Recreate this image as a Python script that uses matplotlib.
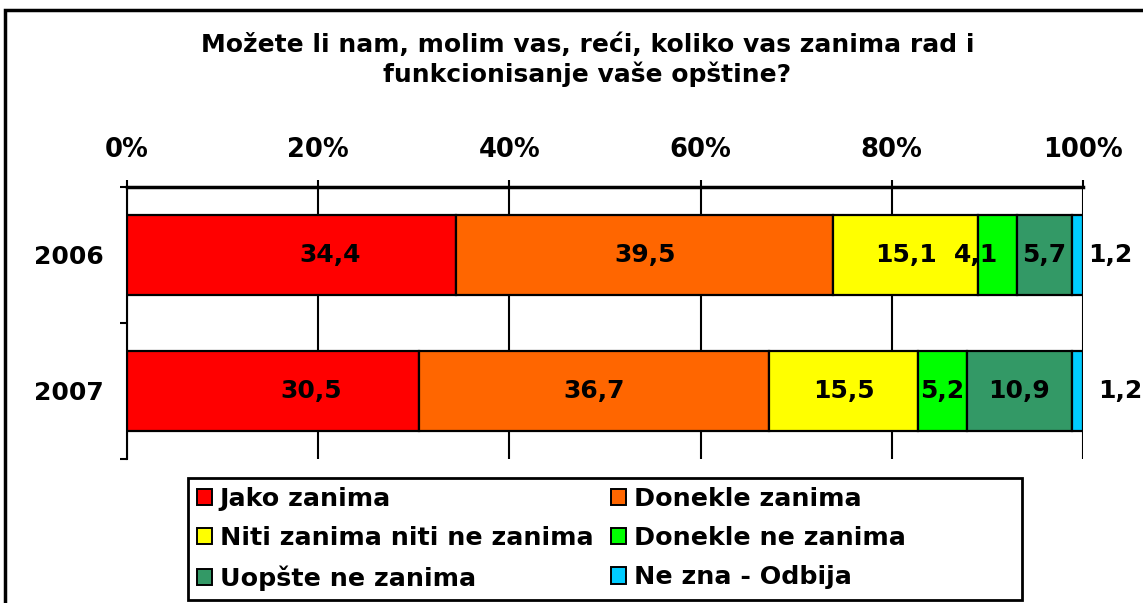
import matplotlib
matplotlib.use("Agg")
import matplotlib.pyplot as plt
from matplotlib.patches import Rectangle, Patch
from matplotlib.ticker import FixedLocator

years = ["2006", "2007"]
categories = ["Jako zanima", "Donekle zanima", "Niti zanima niti ne zanima",
              "Donekle ne zanima", "Uopšte ne zanima", "Ne zna - Odbija"]
values_2006 = [34.4, 39.5, 15.1, 4.1, 5.7, 1.2]
values_2007 = [30.5, 36.7, 15.5, 5.2, 10.9, 1.2]
colors = ["#FF0000", "#FF6600", "#FFFF00", "#00FF00", "#339966", "#00CCFF"]
xticks = [0, 20, 40, 60, 80, 100]
xtick_labels = ["0%", "20%", "40%", "60%", "80%", "100%"]
title = "Možete li nam, molim vas, reći, koliko vas zanima rad i\nfunkcionisanje vaše opštine?"

# label offsets (in % units) to mimic manual label placement
label_dx = {
    0: [4.0, 0, 0, -2.2, 0, 2.8],
    1: [4.0, 0, 0, 0, 0, 3.9],
}

plt.rcParams['font.family'] = ['DejaVu Sans']
plt.rcParams['font.weight'] = 'bold'

FS = 18

fig = plt.figure(figsize=(11.43, 6.03), dpi=100)
ax = fig.add_axes([127/1143, 1-459/603, (1083-127)/1143, (459-187)/603])

data = [values_2006, values_2007]
bar_h = 0.59
for yi, vals in enumerate(data):
    left = 0.0
    for ci, v in enumerate(vals):
        ax.barh(yi, v, left=left, height=bar_h, color=colors[ci],
                edgecolor="black", linewidth=1.6, zorder=3)
        cx = left + v / 2 + label_dx[yi][ci]
        if ci == len(vals) - 1:
            cx = 100 + label_dx[yi][ci]
        ax.text(cx, yi, f"{v:.1f}".replace(".", ","), ha="center", va="center",
                fontsize=FS, fontweight="bold", color="black", zorder=5,
                clip_on=False)
        left += v

ax.set_xlim(0, 100)
ax.set_ylim(1.5, -0.5)
ax.xaxis.tick_top()
ax.set_xticks(xticks)
ax.set_xticklabels(xtick_labels, fontsize=18.5, fontweight="bold")
ax.tick_params(axis="x", direction="out", length=5, width=1.5, pad=12, top=True, bottom=False)
ax.xaxis.grid(True, color="black", linewidth=1.5, zorder=0)

ax.yaxis.set_major_locator(FixedLocator([-0.5, 0.5, 1.5]))
ax.set_yticklabels([])
ax.yaxis.set_minor_locator(FixedLocator([0, 1]))
ax.set_yticklabels(years, minor=True, fontsize=FS, fontweight="bold")
ax.tick_params(axis="y", which="major", direction="out", length=5, width=1.5)
ax.tick_params(axis="y", which="minor", length=0, pad=17)

for s in ["right", "bottom"]:
    ax.spines[s].set_visible(False)
ax.spines["top"].set_linewidth(2.5)
ax.spines["left"].set_linewidth(1.5)

fig.text(0.514, 1-60/603, title, ha="center", va="center", fontsize=18,
         fontweight="bold", linespacing=1.2)

order = [0, 2, 4, 1, 3, 5]
handles = [Patch(facecolor=colors[i], edgecolor="black", linewidth=1.4) for i in order]
labels = [categories[i] for i in order]
leg = fig.legend(handles, labels, loc="upper left", bbox_to_anchor=(188/1143, 1-478/603),
                 ncol=2, frameon=False,
                 prop={"size": 18.3, "weight": "bold"}, handlelength=0.6,
                 handleheight=0.6, handletextpad=0.3, columnspacing=0.7,
                 borderaxespad=0, labelspacing=0.6, borderpad=0.35)

# legend frame box
fig.patches.append(Rectangle((188/1143, 1-600/603), (1022-188)/1143, (600-478)/603,
                             transform=fig.transFigure, fill=False,
                             edgecolor="black", linewidth=2))

# outer chart border
fig.patches.append(Rectangle((5/1143, -0.1), 1.2, 1 - 10/603 + 0.1,
                             transform=fig.transFigure, fill=False,
                             edgecolor="black", linewidth=2.5))

fig.savefig("out.png", dpi=100)
